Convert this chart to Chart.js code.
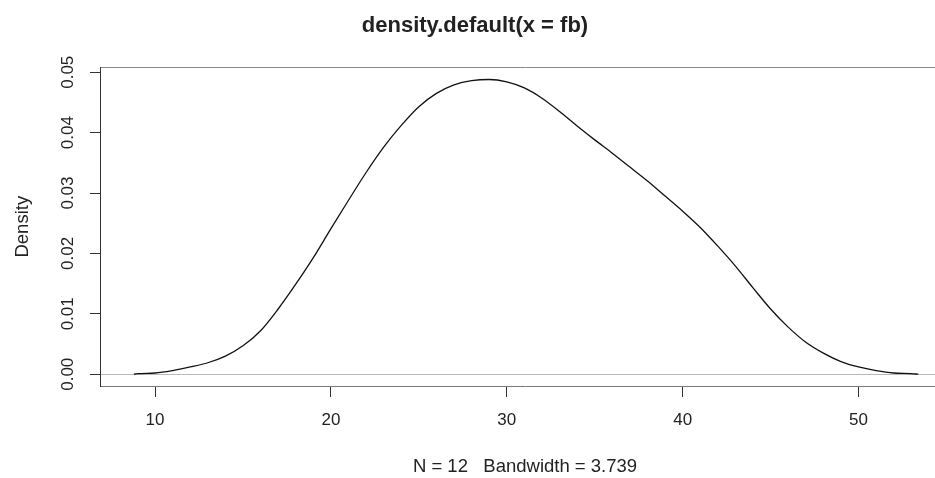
<!DOCTYPE html>
<html>
<head>
<meta charset="utf-8">
<title>density.default(x = fb)</title>
<script src="https://cdn.jsdelivr.net/npm/chart.js@4/dist/chart.umd.min.js"></script>
<style>
  html, body { margin: 0; padding: 0; background: #fff; overflow: hidden; }
  #wrap { width: 935px; height: 478px; overflow: hidden; }
  canvas { display: block; }
</style>
</head>
<body>
<div id="wrap">
  <canvas id="densityChart" width="1051" height="478"></canvas>
</div>
<script>
// density curve
const densX = [8.8, 9, 10, 11, 12, 13, 14, 15, 16, 17,
  18, 19, 20, 21, 22, 23, 24, 25, 26, 27,
  28, 29, 30, 31, 32, 33, 34, 35, 36, 37,
  38, 39, 40, 41, 42, 43, 44, 45, 46, 47,
  48, 49, 50, 51, 52, 53, 53.4];
const densY = [0.0000, 0.0001, 0.0002, 0.0006, 0.0012, 0.0019, 0.0030, 0.0047, 0.0072, 0.0108,
  0.0149, 0.0193, 0.0241, 0.0288, 0.0334, 0.0376, 0.0412, 0.0443, 0.0465, 0.0479,
  0.0486, 0.0488, 0.0484, 0.0474, 0.0457, 0.0435, 0.0411, 0.0388, 0.0366, 0.0343,
  0.0320, 0.0295, 0.0270, 0.0243, 0.0212, 0.0179, 0.0143, 0.0108, 0.0078, 0.0053,
  0.0035, 0.0021, 0.0012, 0.0006, 0.0002, 0.0001, 0.0000];

const xRange = [6.87, 55.2];
const yRange = [-0.00195, 0.0508];
const xTicks = [10, 20, 30, 40, 50];
const yTicks = [0, 0.01, 0.02, 0.03, 0.04, 0.05];

const mainTitle = 'density.default(x = fb)';
const xTitle = 'N = 12   Bandwidth = 3.739';
const yTitle = 'Density';

document.addEventListener('DOMContentLoaded', function(event) {
  const ctx = document.getElementById('densityChart');
  const family = "'Liberation Sans', Arial, sans-serif";
  const textColor = '#222';

  const points = densX.map((x, i) => ({x: x, y: densY[i]}));

  new Chart(ctx, {
    type: 'line',
    data: {
      datasets: [{
        label: 'density',
        data: points,
        borderColor: '#111',
        borderWidth: 1.3,
        pointRadius: 0,
        fill: false,
        cubicInterpolationMode: 'monotone'
      }]
    },
    options: {
      responsive: false,
      animation: false,
      events: [],
      layout: {padding: {left: 0, right: 101, top: 0, bottom: 0}},
      plugins: {
        legend: {display: false},
        tooltip: {enabled: false},
        title: {
          display: true,
          text: mainTitle,
          color: textColor,
          font: {family: family, size: 22, weight: 'bold', lineHeight: 1.2},
          padding: {top: 13, bottom: 28}
        }
      },
      scales: {
        x: {
          type: 'linear',
          position: 'bottom',
          min: xRange[0],
          max: xRange[1],
          afterFit: (scale) => { scale.height = 92; },
          afterBuildTicks: (scale) => {
            scale.ticks = xTicks.map(v => ({value: v}));
          },
          ticks: {
            color: textColor,
            font: {family: family, size: 17},
            padding: 13,
            maxRotation: 0,
            callback: (v) => String(v)
          },
          grid: {
            drawOnChartArea: false,
            drawTicks: true,
            tickLength: 11,
            color: '#333',
            tickColor: '#333'
          },
          border: {display: true, color: '#777', width: 1},
          title: {
            display: true,
            text: xTitle,
            color: textColor,
            font: {family: family, size: 18.5, lineHeight: 1.2},
            padding: {top: 0, bottom: 0}
          }
        },
        x2: {
          type: 'linear',
          position: 'top',
          min: xRange[0],
          max: xRange[1],
          afterFit: (scale) => { scale.height = 0; },
          ticks: {display: false},
          grid: {display: false, drawTicks: false},
          border: {display: true, color: '#888', width: 1}
        },
        y: {
          type: 'linear',
          position: 'left',
          min: yRange[0],
          max: yRange[1],
          afterFit: (scale) => { scale.width = 100; },
          afterBuildTicks: (scale) => {
            scale.ticks = yTicks.map(v => ({value: v}));
          },
          ticks: {
            color: textColor,
            font: {family: family, size: 17},
            padding: 5,
            minRotation: 90,
            maxRotation: 90,
            crossAlign: 'center',
            callback: (v) => Number(v).toFixed(2)
          },
          grid: {
            drawOnChartArea: true,
            drawTicks: true,
            tickLength: 10,
            // only the zero line is drawn inside the plot
            color: (c) => (c.tick && c.tick.value === 0) ? '#b8b8b8' : 'rgba(0,0,0,0)',
            tickColor: '#333'
          },
          border: {display: true, color: '#333', width: 1},
          title: {
            display: true,
            text: yTitle,
            color: textColor,
            font: {family: family, size: 18.5, lineHeight: 1.2},
            padding: {top: 12, bottom: 0}
          }
        }
      }
    }
  });
});
</script>
</body>
</html>
